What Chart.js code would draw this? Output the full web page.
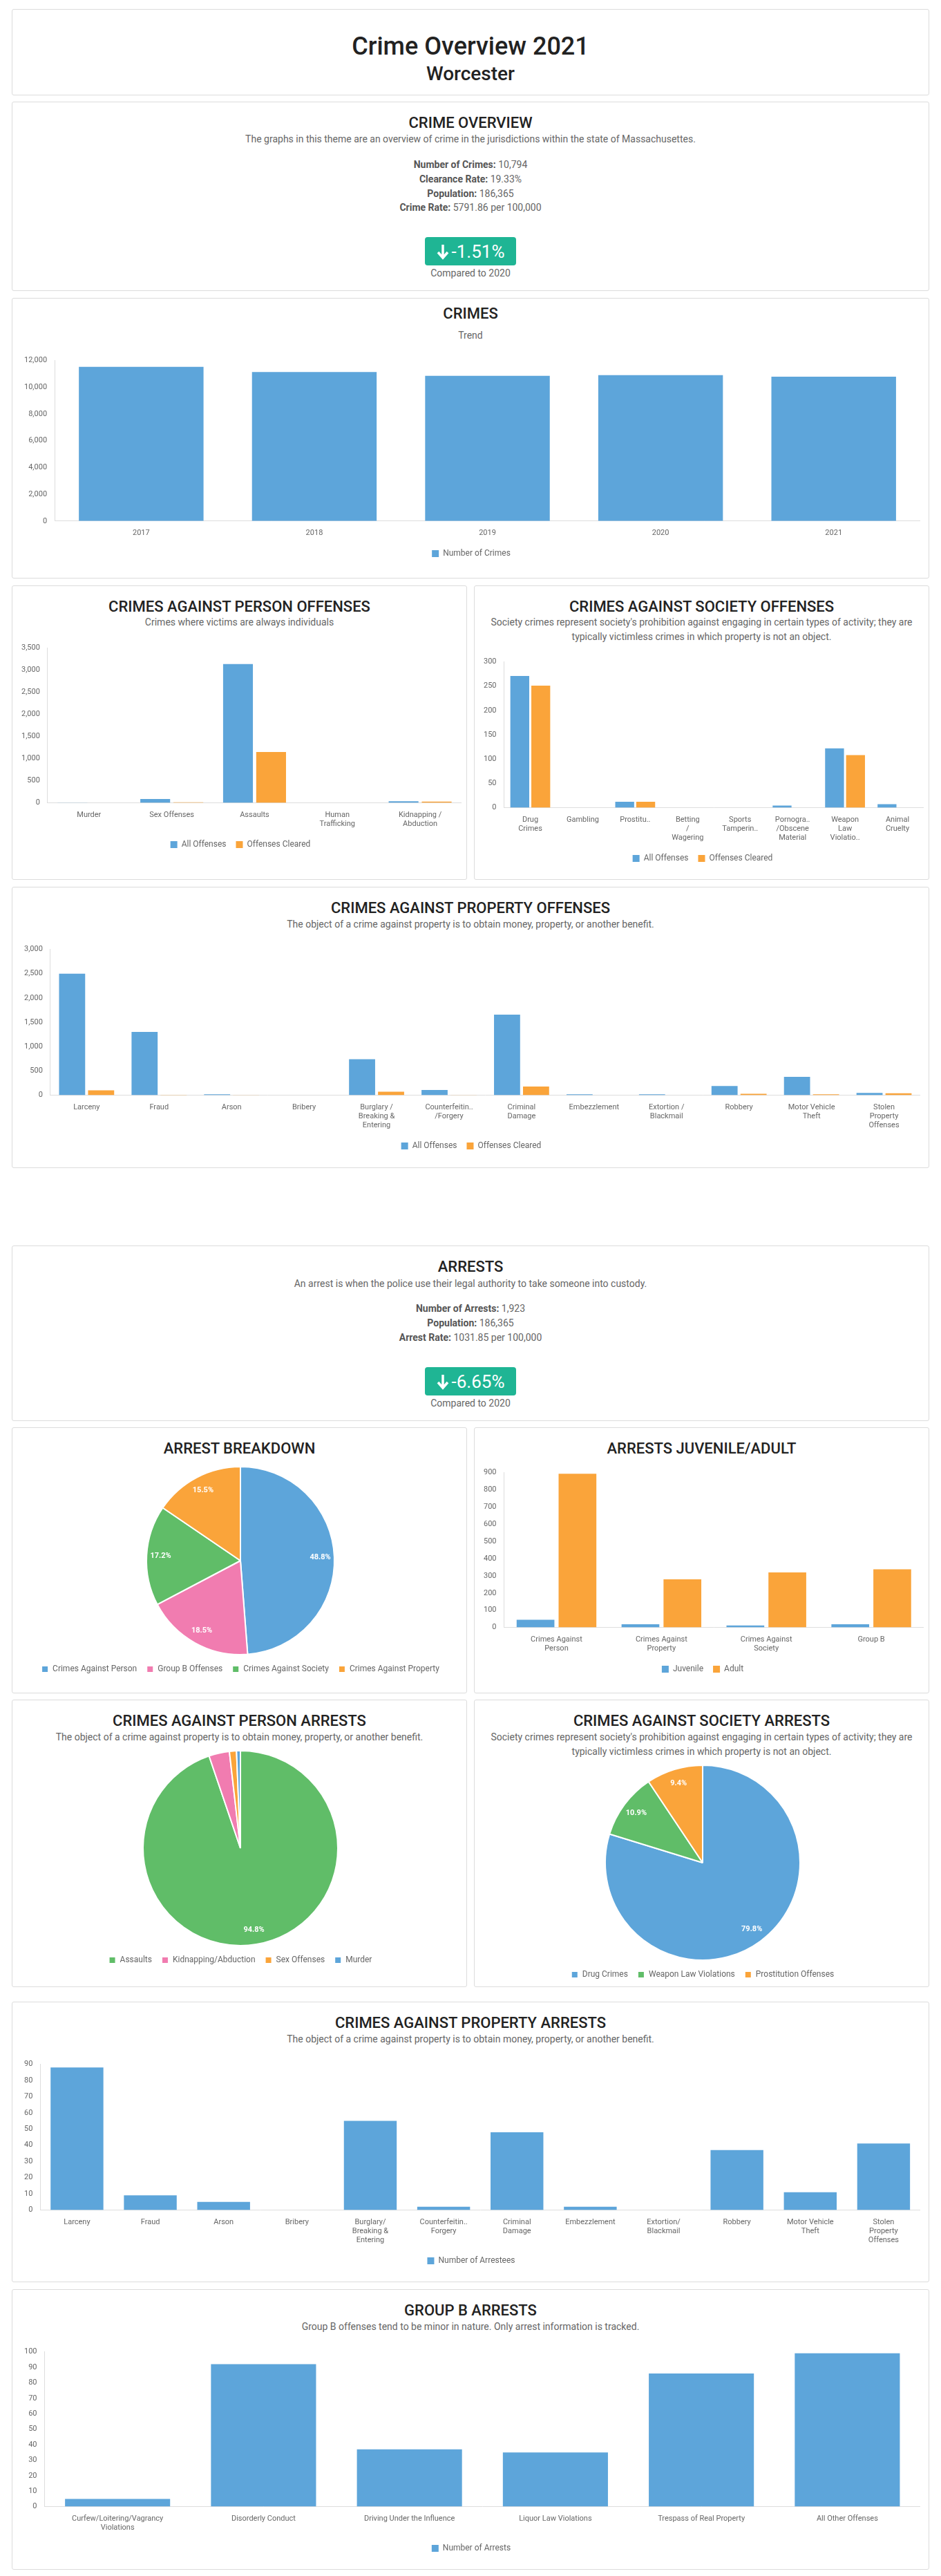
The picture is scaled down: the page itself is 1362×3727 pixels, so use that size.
<!DOCTYPE html>
<html><head><meta charset="utf-8">
<script src="https://cdn.jsdelivr.net/npm/chart.js@4.4.0/dist/chart.umd.min.js"></script>
<style>
body{margin:0;background:#fff;font-family:Roboto,"Open Sans",sans-serif;color:#333;}
.wrap{position:relative;width:1362px;height:3727px;}
.card{position:absolute;border:1px solid #dcdcdc;border-radius:3px;box-sizing:border-box;background:#fff;}
.t{position:absolute;left:0;right:0;text-align:center;transform:translateY(-50%);white-space:nowrap;}
.h{font-size:22px;color:#222;font-weight:500;}
.s{font-size:14px;color:#666;}
.st{font-size:14px;color:#666;}
.st b{color:#555;}
.cv{position:absolute;}
.badge{position:absolute;left:50%;transform:translateX(-50%);background:#1fb594;color:#fff;border-radius:4px;width:132px;height:41px;font-size:26px;display:flex;align-items:center;justify-content:center;gap:4px;}
</style></head><body><div class="wrap" id="w">

<div class="card" style="left:17px;top:13px;width:1328px;height:125px">
 <div class="t" style="top:53px;font-size:36px;color:#222;font-weight:500">Crime Overview 2021</div>
 <div class="t" style="top:92px;font-size:28px;color:#222;font-weight:500">Worcester</div>
</div>

<div class="card" style="left:17px;top:147px;width:1328px;height:274px">
 <div class="t h" style="top:29px">CRIME OVERVIEW</div>
 <div class="t s" style="top:53px">The graphs in this theme are an overview of crime in the jurisdictions within the state of Massachusettes.</div>
 <div class="t st" style="top:90px"><b>Number of Crimes:</b> 10,794</div>
 <div class="t st" style="top:111px"><b>Clearance Rate:</b> 19.33%</div>
 <div class="t st" style="top:132px"><b>Population:</b> 186,365</div>
 <div class="t st" style="top:152px"><b>Crime Rate:</b> 5791.86 per 100,000</div>
 <div class="badge" style="top:195px"><svg width="18" height="24" viewBox="0 0 18 24"><path d="M9 2v18M2 13l7 8 7-8" stroke="#fff" stroke-width="3.5" fill="none"/></svg>-1.51%</div>
 <div class="t s" style="top:247px">Compared to 2020</div>
</div>

<div class="card" style="left:17px;top:431px;width:1328px;height:406px">
 <div class="t h" style="top:21px">CRIMES</div>
 <div class="t s" style="top:53px">Trend</div>
 <div class="cv" style="left:14px;top:80px;width:1300px;height:305px"><canvas id="c1"></canvas></div>
</div>

<div class="card" style="left:17px;top:847px;width:659px;height:426px">
 <div class="t h" style="top:29px">CRIMES AGAINST PERSON OFFENSES</div>
 <div class="t s" style="top:52px">Crimes where victims are always individuals</div>
 <div class="cv" style="left:10px;top:80px;width:640px;height:310px"><canvas id="c2"></canvas></div>
</div>
<div class="card" style="left:686px;top:847px;width:659px;height:426px">
 <div class="t h" style="top:29px">CRIMES AGAINST SOCIETY OFFENSES</div>
 <div class="t s" style="top:52px">Society crimes represent society's prohibition against engaging in certain types of activity; they are</div>
 <div class="t s" style="top:73px">typically victimless crimes in which property is not an object.</div>
 <div class="cv" style="left:10px;top:100px;width:640px;height:310px"><canvas id="c3"></canvas></div>
</div>

<div class="card" style="left:17px;top:1283px;width:1328px;height:407px">
 <div class="t h" style="top:29px">CRIMES AGAINST PROPERTY OFFENSES</div>
 <div class="t s" style="top:53px">The object of a crime against property is to obtain money, property, or another benefit.</div>
 <div class="cv" style="left:14px;top:80px;width:1300px;height:310px"><canvas id="c4"></canvas></div>
</div>

<div class="card" style="left:17px;top:1802px;width:1328px;height:254px">
 <div class="t h" style="top:29px">ARRESTS</div>
 <div class="t s" style="top:54px">An arrest is when the police use their legal authority to take someone into custody.</div>
 <div class="t st" style="top:90px"><b>Number of Arrests:</b> 1,923</div>
 <div class="t st" style="top:111px"><b>Population:</b> 186,365</div>
 <div class="t st" style="top:132px"><b>Arrest Rate:</b> 1031.85 per 100,000</div>
 <div class="badge" style="top:175px"><svg width="18" height="24" viewBox="0 0 18 24"><path d="M9 2v18M2 13l7 8 7-8" stroke="#fff" stroke-width="3.5" fill="none"/></svg>-6.65%</div>
 <div class="t s" style="top:227px">Compared to 2020</div>
</div>

<div class="card" style="left:17px;top:2065px;width:659px;height:385px">
 <div class="t h" style="top:29px">ARREST BREAKDOWN</div>
 <div class="cv" style="left:10px;top:55px;width:640px;height:310px"><canvas id="c5"></canvas></div>
</div>
<div class="card" style="left:686px;top:2065px;width:659px;height:385px">
 <div class="t h" style="top:29px">ARRESTS JUVENILE/ADULT</div>
 <div class="cv" style="left:10px;top:55px;width:640px;height:310px"><canvas id="c6"></canvas></div>
</div>

<div class="card" style="left:17px;top:2459px;width:659px;height:416px">
 <div class="t h" style="top:29px">CRIMES AGAINST PERSON ARRESTS</div>
 <div class="t s" style="top:53px">The object of a crime against property is to obtain money, property, or another benefit.</div>
 <div class="cv" style="left:10px;top:72px;width:640px;height:320px"><canvas id="c7"></canvas></div>
</div>
<div class="card" style="left:686px;top:2459px;width:659px;height:416px">
 <div class="t h" style="top:29px">CRIMES AGAINST SOCIETY ARRESTS</div>
 <div class="t s" style="top:53px">Society crimes represent society's prohibition against engaging in certain types of activity; they are</div>
 <div class="t s" style="top:74px">typically victimless crimes in which property is not an object.</div>
 <div class="cv" style="left:10px;top:93px;width:640px;height:320px"><canvas id="c8"></canvas></div>
</div>

<div class="card" style="left:17px;top:2896px;width:1328px;height:406px">
 <div class="t h" style="top:29px">CRIMES AGAINST PROPERTY ARRESTS</div>
 <div class="t s" style="top:53px">The object of a crime against property is to obtain money, property, or another benefit.</div>
 <div class="cv" style="left:14px;top:80px;width:1300px;height:310px"><canvas id="c9"></canvas></div>
</div>

<div class="card" style="left:17px;top:3312px;width:1328px;height:406px">
 <div class="t h" style="top:29px">GROUP B ARRESTS</div>
 <div class="t s" style="top:53px">Group B offenses tend to be minor in nature. Only arrest information is tracked.</div>
 <div class="cv" style="left:14px;top:80px;width:1300px;height:310px"><canvas id="c10"></canvas></div>
</div>
</div>
<script>
const BLUE='#5DA5DA',ORANGE='#FAA43A',PINK='#F17CB0',GREEN='#60BD68';

const crimeYears=['2017','2018','2019','2020','2021'];
const crimeCounts=[11530,11145,10850,10905,10794];

const personLabels=['Murder','Sex Offenses','Assaults',['Human','Trafficking'],['Kidnapping /','Abduction']];
const personAll=[4,86,3139,2,38];
const personCleared=[2,15,1151,0,29];

const societyLabels=[['Drug','Crimes'],'Gambling','Prostitu..',['Betting','/','Wagering'],['Sports','Tamperin..'],['Pornogra..','/Obscene','Material'],['Weapon','Law','Violatio..'],['Animal','Cruelty']];
const societyAll=[271,0,12,0,0,4,122,7];
const societyCleared=[251,0,12,0,0,0,108,0];

const propertyLabels=['Larceny','Fraud','Arson','Bribery',['Burglary /','Breaking &','Entering'],['Counterfeitin..','/Forgery'],['Criminal','Damage'],'Embezzlement',['Extortion /','Blackmail'],'Robbery',['Motor Vehicle','Theft'],['Stolen','Property','Offenses']];
const propertyAll=[2501,1300,18,0,739,107,1656,18,18,187,374,45];
const propertyCleared=[98,5,2,0,71,3,178,0,0,27,18,36];

const breakdownLabels=['Crimes Against Person','Group B Offenses','Crimes Against Society','Crimes Against Property'];
const breakdownValues=[938,356,331,298];

const juvLabels=[['Crimes Against','Person'],['Crimes Against','Property'],['Crimes Against','Society'],'Group B'];
const juvenile=[45,18,11,18];
const adult=[893,280,320,338];

const personArrLabels=['Assaults','Kidnapping/Abduction','Sex Offenses','Murder'];
const personArrValues=[889,32,11,6];

const societyArrLabels=['Drug Crimes','Weapon Law Violations','Prostitution Offenses'];
const societyArrValues=[264,36,31];

const propArrLabels=['Larceny','Fraud','Arson','Bribery',['Burglary/','Breaking &','Entering'],['Counterfeitin..','Forgery'],['Criminal','Damage'],'Embezzlement',['Extortion/','Blackmail'],'Robbery',['Motor Vehicle','Theft'],['Stolen','Property','Offenses']];
const propArrValues=[88,9,5,0,55,2,48,2,0,37,11,41];

const groupBLabels=[['Curfew/Loitering/Vagrancy','Violations'],'Disorderly Conduct','Driving Under the Influence','Liquor Law Violations','Trespass of Real Property','All Other Offenses'];
const groupBValues=[5,92,37,35,86,99];

Chart.defaults.font.family='Roboto';
Chart.defaults.font.size=11;
Chart.defaults.color='#666';
Chart.defaults.animation=false;

function legendOpts(){return {position:'bottom',labels:{boxWidth:10,boxHeight:10,padding:14,font:{size:12}}};}
function bar(id,labels,datasets,yopts){
  new Chart(document.getElementById(id),{type:'bar',data:{labels,datasets},
   options:{responsive:true,maintainAspectRatio:false,
    plugins:{legend:legendOpts(),tooltip:{enabled:false}},
    scales:{x:{grid:{display:false},border:{display:true,color:'#ddd'},ticks:{maxRotation:0,autoSkip:false,font:{size:11}}},
            y:Object.assign({beginAtZero:true,grid:{display:false},border:{display:true,color:'#ddd'}},yopts)}}});
}
bar('c1',crimeYears,[{label:'Number of Crimes',data:crimeCounts,backgroundColor:BLUE}],{max:12000,ticks:{stepSize:2000}});
bar('c2',personLabels,[{label:'All Offenses',data:personAll,backgroundColor:BLUE},{label:'Offenses Cleared',data:personCleared,backgroundColor:ORANGE}],{max:3500,ticks:{stepSize:500}});
bar('c3',societyLabels,[{label:'All Offenses',data:societyAll,backgroundColor:BLUE},{label:'Offenses Cleared',data:societyCleared,backgroundColor:ORANGE}],{max:300,ticks:{stepSize:50}});
bar('c4',propertyLabels,[{label:'All Offenses',data:propertyAll,backgroundColor:BLUE},{label:'Offenses Cleared',data:propertyCleared,backgroundColor:ORANGE}],{max:3000,ticks:{stepSize:500}});
bar('c6',juvLabels,[{label:'Juvenile',data:juvenile,backgroundColor:BLUE},{label:'Adult',data:adult,backgroundColor:ORANGE}],{max:900,ticks:{stepSize:100}});
bar('c9',propArrLabels,[{label:'Number of Arrestees',data:propArrValues,backgroundColor:BLUE}],{max:90,ticks:{stepSize:10}});
bar('c10',groupBLabels,[{label:'Number of Arrests',data:groupBValues,backgroundColor:BLUE}],{max:100,ticks:{stepSize:10}});

const pctPlugin={id:'pct',afterDatasetsDraw(chart){
  const ctx=chart.ctx,ds=chart.data.datasets[0],meta=chart.getDatasetMeta(0);
  const tot=ds.data.reduce((a,b)=>a+b,0);
  ctx.save();ctx.fillStyle='#fff';ctx.font='bold 11px Roboto';ctx.textAlign='center';ctx.textBaseline='middle';
  meta.data.forEach((el,i)=>{const p=ds.data[i]/tot*100;if(p<5)return;
    const a=(el.startAngle+el.endAngle)/2,r=el.outerRadius*0.85;
    ctx.fillText(p.toFixed(1)+'%',el.x+Math.cos(a)*r,el.y+Math.sin(a)*r);});
  ctx.restore();}};
function pie(id,labels,data,colors){
  new Chart(document.getElementById(id),{type:'pie',data:{labels,datasets:[{data,backgroundColor:colors,borderColor:'#fff',borderWidth:2}]},
   options:{responsive:true,maintainAspectRatio:false,plugins:{legend:legendOpts(),tooltip:{enabled:false}}},plugins:[pctPlugin]});
}
pie('c5',breakdownLabels,breakdownValues,[BLUE,PINK,GREEN,ORANGE]);
pie('c7',personArrLabels,personArrValues,[GREEN,PINK,ORANGE,BLUE]);
pie('c8',societyArrLabels,societyArrValues,[BLUE,GREEN,ORANGE]);
</script></body></html>
